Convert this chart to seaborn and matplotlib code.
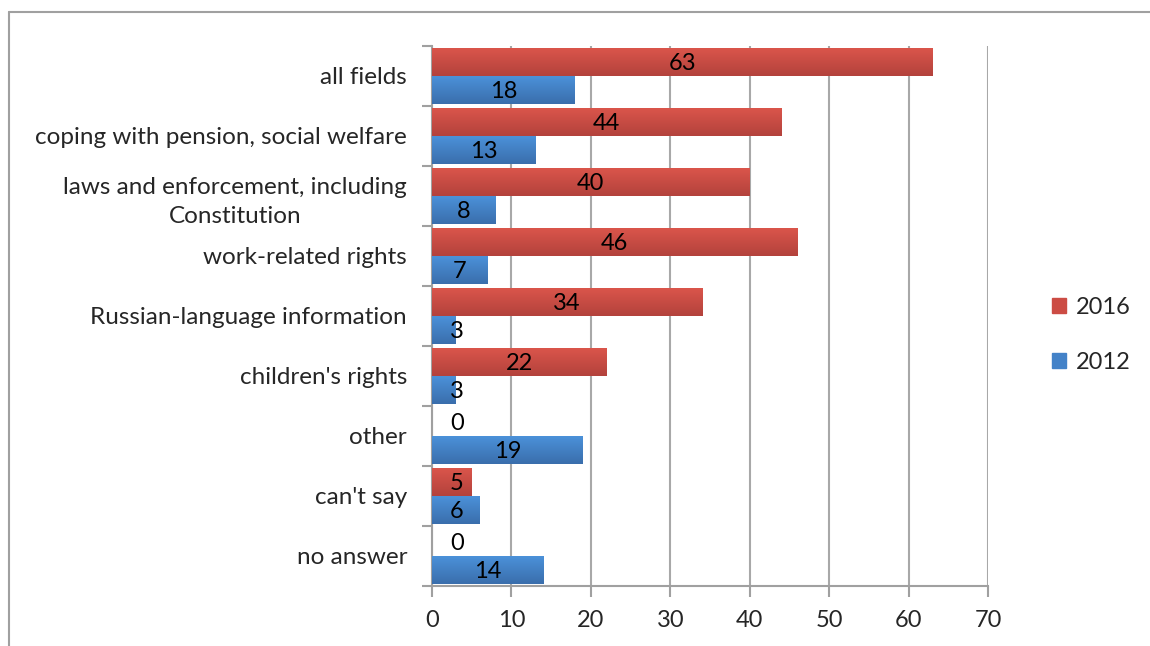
import numpy as np
import pandas as pd
import matplotlib
matplotlib.use("Agg")
import matplotlib.pyplot as plt
import seaborn as sns
from matplotlib.colors import LinearSegmentedColormap

categories = ["all fields", "coping with pension, social welfare",
              "laws and enforcement, including\nConstitution", "work-related rights",
              "Russian-language information", "children's rights", "other",
              "can't say", "no answer"]
values_2016 = [63, 44, 40, 46, 34, 22, 0, 5, 0]
values_2012 = [18, 13, 8, 7, 3, 3, 19, 6, 14]
series = ["2016", "2012"]
x_ticks = [0, 10, 20, 30, 40, 50, 60, 70]

df = pd.DataFrame({
    "category": categories * 2,
    "value": values_2016 + values_2012,
    "year": ["2016"] * len(categories) + ["2012"] * len(categories),
})

sns.set_theme(style="white")
plt.rcParams["font.family"] = ["Lato", "DejaVu Sans"]

red_top, red_bot = "#DA554B", "#B3423C"
blue_top, blue_bot = "#4B91D9", "#3A6EAC"
palette = {"2016": "#CC4C44", "2012": "#4382C8"}

fig = plt.figure(figsize=(11.5, 6.46), dpi=100)
ax = fig.add_axes([0.3757, 0.0929, 0.8591 - 0.3757, 0.9288 - 0.0929])

sns.barplot(data=df, y="category", x="value", hue="year", hue_order=series,
            order=categories, palette=palette, orient="h", width=0.92,
            ax=ax, legend=True, saturation=1, edgecolor="none", zorder=3)

ax.set_xlim(0, 70)
ax.set_ylim(len(categories) - 0.5, -0.5)

# gradient fill on bars
cmaps = {"2016": LinearSegmentedColormap.from_list("r", [red_top, red_bot]),
         "2012": LinearSegmentedColormap.from_list("b", [blue_top, blue_bot])}
grad = np.linspace(0, 1, 64).reshape(-1, 1)
for cont, yr, vals in zip(ax.containers, series, [values_2016, values_2012]):
    for patch, v in zip(cont.patches, vals):
        x0, y0 = patch.get_x(), patch.get_y()
        w, h = patch.get_width(), patch.get_height()
        if w > 0:
            ax.imshow(grad, cmap=cmaps[yr], aspect="auto",
                      extent=(x0, x0 + w, y0 + h, y0), zorder=3.5,
                      interpolation="bilinear")
        cy = y0 + h / 2
        lx = max(x0 + w / 2, 3.1)
        ax.text(lx, cy + 0.03, f"{v}", ha="center", va="center",
                fontsize=17, color="black", zorder=5)
ax.set_xlim(0, 70)
ax.set_ylim(len(categories) - 0.5, -0.5)

ax.set_xticks(x_ticks)
ax.set_xticklabels([str(t) for t in x_ticks], fontsize=17)
ax.set_yticks(range(len(categories)))
ax.set_yticklabels(categories, fontsize=17.5, multialignment="center",
                   linespacing=1.5)
ax.tick_params(axis="y", length=0, pad=18)
ax.tick_params(axis="x", length=8, width=1.5, color="#A0A0A0", direction="out",
               pad=9, bottom=True)
# category boundary ticks on y axis
ax.set_yticks(np.arange(-0.5, len(categories)), minor=True)
ax.tick_params(axis="y", which="minor", length=7, width=1.5, color="#A0A0A0",
               left=True)

ax.grid(axis="x", color="#A8A8A8", linewidth=1.5, zorder=0)
ax.set_axisbelow(True)
for s in ["top", "right"]:
    ax.spines[s].set_visible(False)
for s in ["left", "bottom"]:
    ax.spines[s].set_color("#A0A0A0")
    ax.spines[s].set_linewidth(1.5)
ax.set_xlabel("")
ax.set_ylabel("")

leg = ax.legend(handles=[plt.Rectangle((0, 0), 1, 1, color=palette[s]) for s in series],
                labels=series, loc="center left", bbox_to_anchor=(1.077, 0.465),
                frameon=False, fontsize=17, handlelength=0.6, handleheight=0.6,
                handletextpad=0.4, labelspacing=1.45)

# outer border (top and left)
fig.add_artist(plt.Line2D([0.0078, 1.0], [0.981, 0.981], transform=fig.transFigure,
                          color="#A0A0A0", linewidth=1.5))
fig.add_artist(plt.Line2D([0.0078, 0.0078], [0.0, 0.981], transform=fig.transFigure,
                          color="#A0A0A0", linewidth=1.5))

fig.savefig("out.png", dpi=100)
